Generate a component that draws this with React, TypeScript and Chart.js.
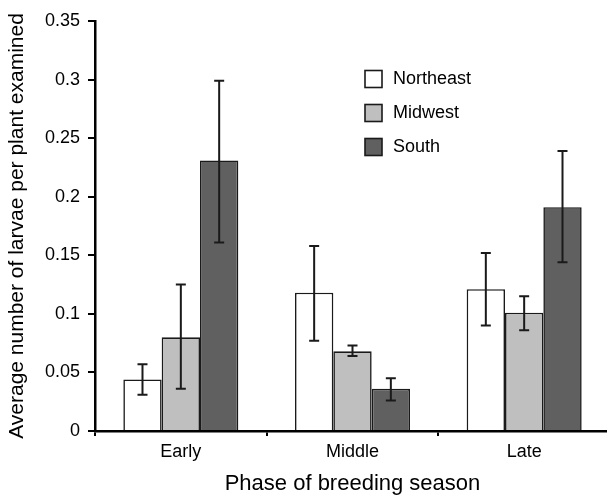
import React, { useEffect, useRef } from "react";
import { Chart, registerables } from "chart.js";

Chart.register(...registerables);

const categories = ["Early", "Middle", "Late"];
const seriesNames = ["Northeast", "Midwest", "South"];
const northeast = [0.044, 0.118, 0.121];
const midwest = [0.080, 0.068, 0.101];
const south = [0.231, 0.036, 0.191];
const northeastLow = [0.031, 0.077, 0.090];
const northeastHigh = [0.057, 0.158, 0.152];
const midwestLow = [0.036, 0.064, 0.086];
const midwestHigh = [0.125, 0.073, 0.115];
const southLow = [0.161, 0.026, 0.144];
const southHigh = [0.299, 0.045, 0.239];
const yTicks = [0, 0.05, 0.1, 0.15, 0.2, 0.25, 0.3, 0.35];

const FONT = "'Liberation Sans', Arial, sans-serif";
const colors = ["#ffffff", "#bfbfbf", "#606060"];

const lows = [northeastLow, midwestLow, southLow];
const highs = [northeastHigh, midwestHigh, southHigh];

const errorBarPlugin = {
  id: "errorBars",
  afterDatasetsDraw(chart: any) {
    const ctx = chart.ctx;
    const yScale = chart.scales.y;
    ctx.save();
    ctx.strokeStyle = "#1a1a1a";
    ctx.lineWidth = 2;
    chart.data.datasets.forEach((ds: any, di: number) => {
      const meta = chart.getDatasetMeta(di);
      meta.data.forEach((el: any, i: number) => {
        const x = el.x;
        const yl = yScale.getPixelForValue(lows[di][i]);
        const yh = yScale.getPixelForValue(highs[di][i]);
        ctx.beginPath();
        ctx.moveTo(x, yl);
        ctx.lineTo(x, yh);
        ctx.moveTo(x - 5, yl);
        ctx.lineTo(x + 5, yl);
        ctx.moveTo(x - 5, yh);
        ctx.lineTo(x + 5, yh);
        ctx.stroke();
      });
    });
    ctx.restore();
  },
};

const legendPlugin = {
  id: "insideLegend",
  afterDraw(chart: any) {
    const ctx = chart.ctx;
    const area = chart.chartArea;
    const bx = area.left + 270;
    const by0 = area.top + 49.5;
    const gap = 34;
    ctx.save();
    ctx.font = `18px ${FONT}`;
    ctx.textBaseline = "middle";
    ctx.textAlign = "left";
    seriesNames.forEach((name, i) => {
      const by = by0 + i * gap;
      ctx.fillStyle = colors[i];
      ctx.fillRect(bx, by, 17, 17);
      ctx.strokeStyle = "#1a1a1a";
      ctx.lineWidth = 1.6;
      ctx.strokeRect(bx, by, 17, 17);
      ctx.fillStyle = "#000";
      ctx.fillText(name, bx + 28, by + 9);
    });
    ctx.restore();
  },
};

export default function App() {
  const ref = useRef<HTMLCanvasElement>(null);
  useEffect(() => {
    if (!ref.current) return;
    const chart = new Chart(ref.current, {
      type: "bar",
      data: {
        labels: categories,
        datasets: [northeast, midwest, south].map((d, i) => ({
          label: seriesNames[i],
          data: d,
          backgroundColor: colors[i],
          borderColor: "#1a1a1a",
          borderWidth: 1.6,
          categoryPercentage: 0.67,
          barPercentage: 1,
        })),
      },
      options: {
        animation: false,
        responsive: false,
        devicePixelRatio: 1,
        layout: { padding: { top: 21, right: 2, left: 0, bottom: 4 } },
        plugins: { legend: { display: false }, tooltip: { enabled: false } },
        scales: {
          x: {
            grid: {
              offset: true,
              drawOnChartArea: false,
              drawTicks: true,
              tickLength: 5,
              color: "#000",
              lineWidth: 2,
            },
            border: { display: true, color: "#000", width: 2.5 },
            ticks: {
              color: "#000",
              font: { family: FONT, size: 18 },
              padding: 5,
              maxRotation: 0,
            },
            title: {
              display: true,
              text: "Phase of breeding season",
              color: "#000",
              font: { family: FONT, size: 22 },
              padding: { top: 4, bottom: -1 },
            },
            afterFit(scale: any) {
              scale.height = 65;
            },
          },
          y: {
            min: 0,
            max: 0.35,
            afterBuildTicks(scale: any) {
              scale.ticks = yTicks.map((v) => ({ value: v }));
            },
            grid: {
              drawOnChartArea: false,
              drawTicks: true,
              tickLength: 7,
              color: "#000",
              lineWidth: 2,
            },
            border: { display: true, color: "#000", width: 2.5 },
            ticks: {
              color: "#000",
              font: { family: FONT, size: 18 },
              padding: 8,
              callback: (v: any) => String(Number(Number(v).toFixed(2))),
            },
            title: {
              display: true,
              text: "Average number of larvae per plant examined",
              color: "#000",
              font: { family: FONT, size: 21 },
              padding: { top: 5, bottom: 4 },
            },
            afterFit(scale: any) {
              scale.width = 95;
            },
          },
        },
      },
      plugins: [errorBarPlugin, legendPlugin],
    });
    return () => chart.destroy();
  }, []);
  return (
    <div style={{ position: "fixed", left: 0, top: 0, width: 612, height: 500, background: "#fff" }}>
      <canvas ref={ref} width={612} height={500} style={{ width: 612, height: 500, display: "block" }} />
    </div>
  );
}
